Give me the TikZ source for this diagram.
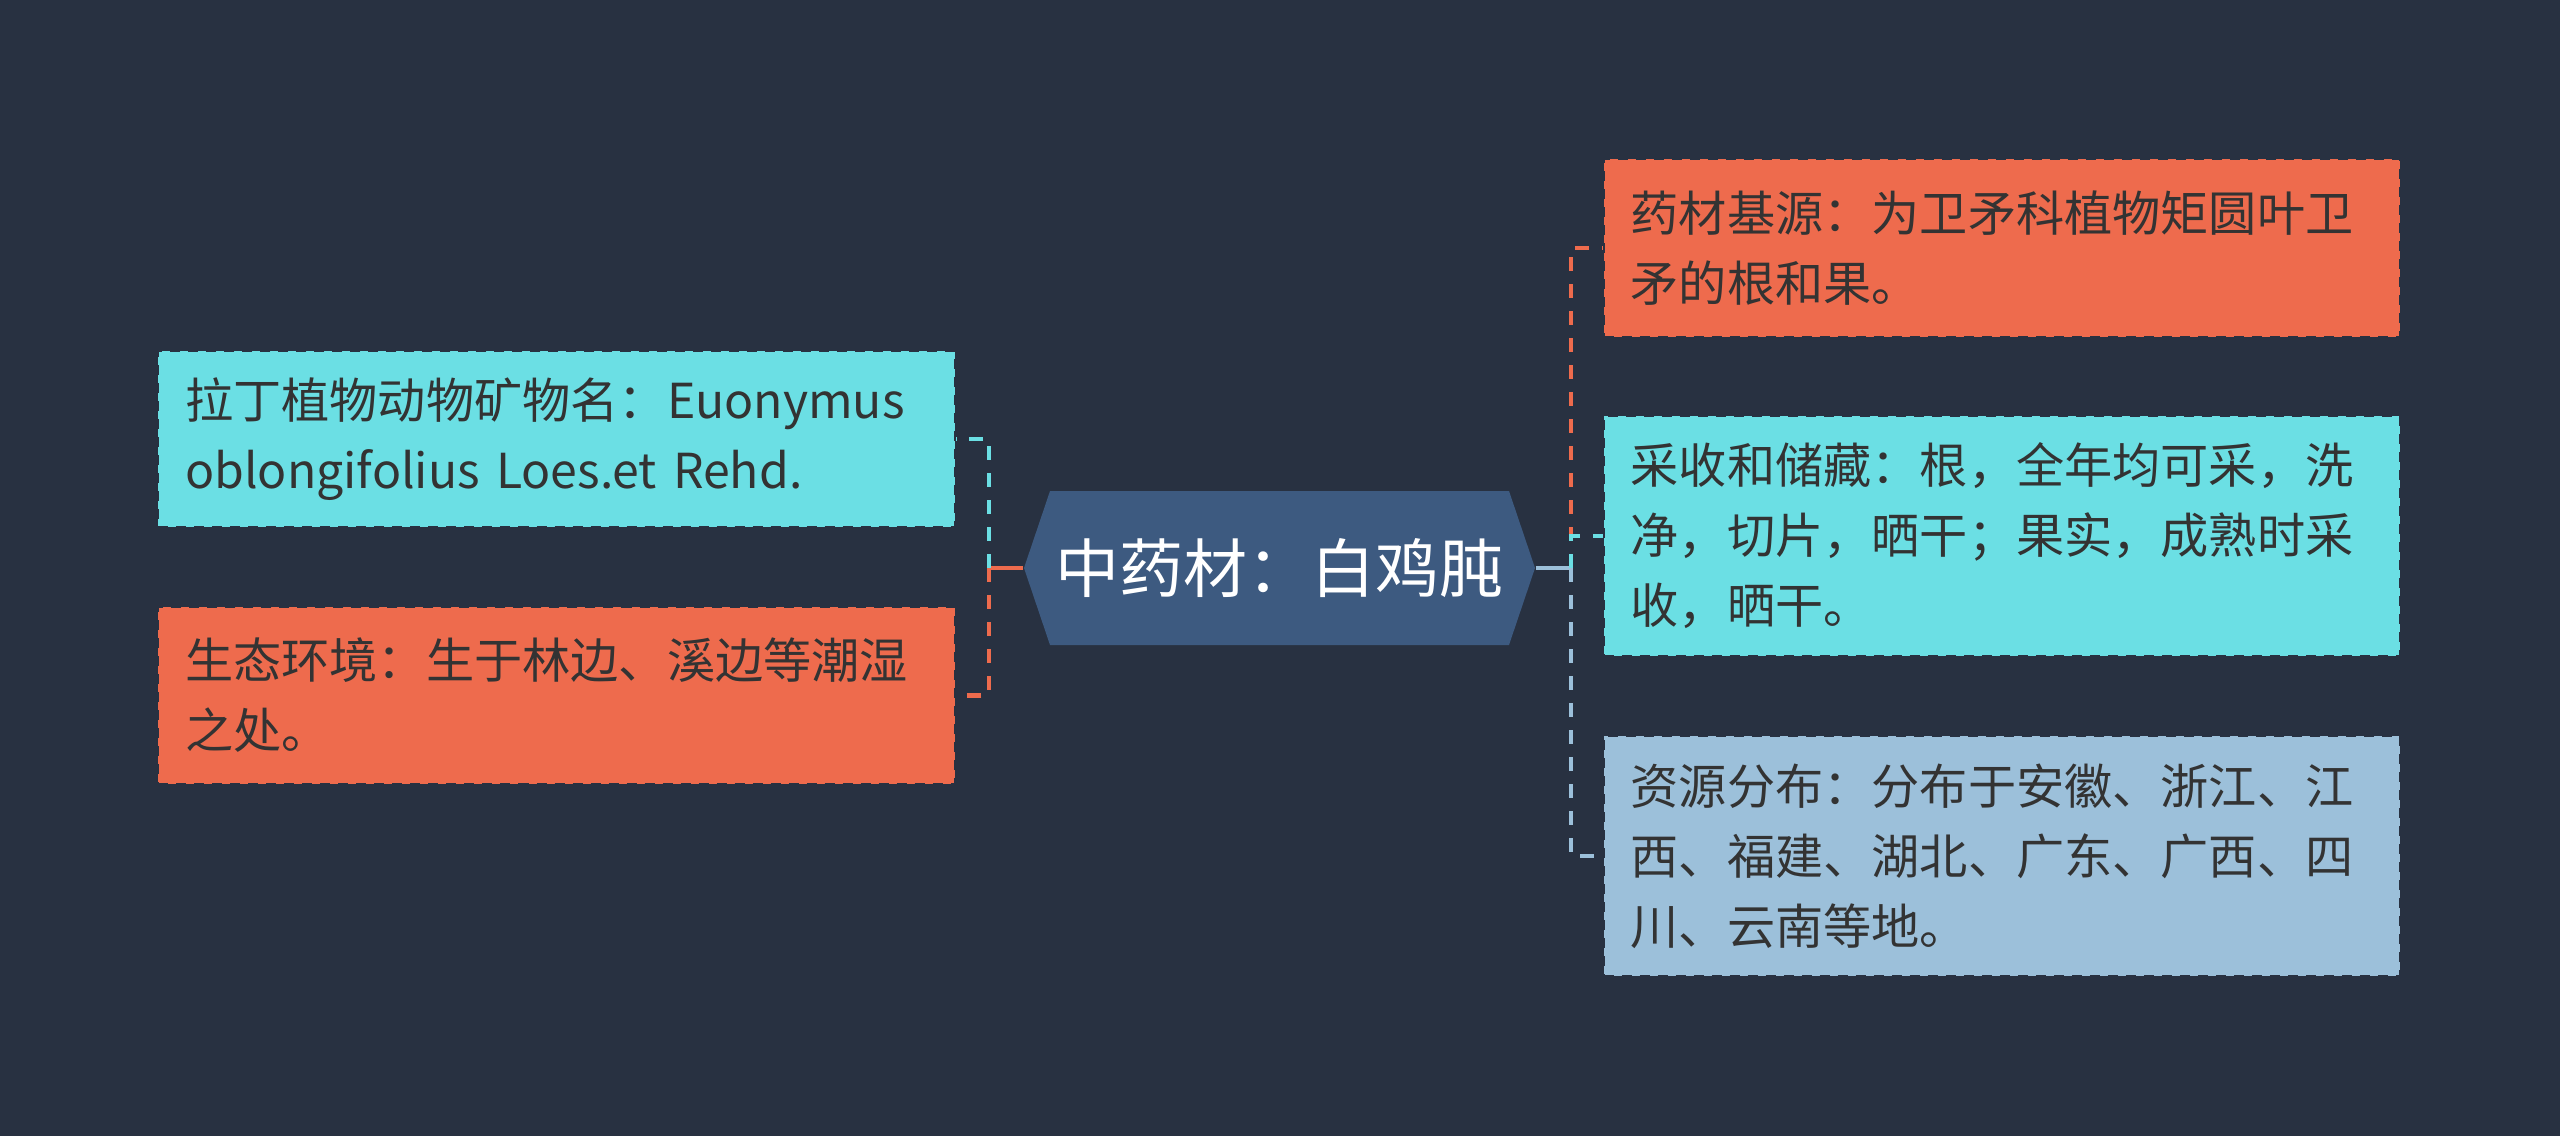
\documentclass[tikz,border=0pt]{standalone}
\usepackage{fontspec}
\newfontfamily\cjk{Noto Sans CJK SC}
\usetikzlibrary{positioning}
\definecolor{bgdark}{HTML}{283141}
\definecolor{hexblue}{HTML}{3D5A80}
\definecolor{cyanbox}{HTML}{6BDFE4}
\definecolor{orangebox}{HTML}{EE6B4D}
\definecolor{bluebox}{HTML}{9CC0DA}
\definecolor{txtdark}{HTML}{333333}
\tikzset{
  leaf/.style={draw=bgdark, dash pattern=on 0.1cm off 0.08cm, line width=0.6pt,
    text=txtdark, minimum width=7.96cm, text width=7.42cm, align=left, inner sep=0pt,
    font=\cjk\fontsize{13.7}{19.9}\selectfont},
  rootnode/.style={minimum width=5.11cm, minimum height=1.54cm, inner sep=0pt,
    text=white, font=\cjk\fontsize{18.2}{22}\selectfont},
  link/.style={line width=1.4pt, dash pattern=on 0.14cm off 0.13cm},
  trunk/.style={line width=1.4pt}
}
\begin{document}
\begin{tikzpicture}[x=0.01cm, y=-0.01cm]
  \fill[bgdark] (0,0) rectangle (2560,1136);
  \useasboundingbox (0,0) rectangle (2560,1136);

  % central topic
  \fill[hexblue] (1024,568) -- (1050,491) -- (1509,491) -- (1535,568) -- (1509,645) -- (1050,645) -- cycle;
  \node[rootnode] (root) at (1279.5,568) {中药材：白鸡肫};

  % left branches
  \node[leaf, fill=cyanbox, minimum height=1.76cm] (latin) at (556.5,439) {拉丁植物动物矿物名：Euonymus\\oblongifolius Loes.et Rehd.};
  \node[leaf, fill=orangebox, minimum height=1.77cm] (habitat) at (556.5,695.5) {生态环境：生于林边、溪边等潮湿\\之处。};

  % right branches
  \node[leaf, fill=orangebox, minimum height=1.78cm] (origin) at (2002,248) {药材基源：为卫矛科植物矩圆叶卫\\矛的根和果。};
  \node[leaf, fill=cyanbox, minimum height=2.40cm] (harvest) at (2002,536) {采收和储藏：根，全年均可采，洗\\净，切片，晒干；果实，成熟时采\\收，晒干。};
  \node[leaf, fill=bluebox, minimum height=2.40cm] (distrib) at (2002,856) {资源分布：分布于安徽、浙江、江\\西、福建、湖北、广东、广西、四\\川、云南等地。};

  \coordinate (hubL) at (989,568);
  \coordinate (hubR) at (1571,568);

  \draw[trunk, orangebox] (root.west) -- (hubL);
  \draw[trunk, bluebox] (root.east) -- (hubR);

  \draw[link, cyanbox] (hubL) -- (hubL |- latin) -- (latin.east);
  \draw[link, orangebox] (hubL) -- (hubL |- habitat) -- (habitat.east);

  \draw[link, orangebox] (hubR) -- (hubR |- origin) -- (origin.west);
  \draw[link, bluebox] (hubR) -- (hubR |- distrib) -- (distrib.west);
  \draw[link, cyanbox] (hubR) -- (hubR |- harvest) -- (harvest.west);
\end{tikzpicture}
\end{document}
